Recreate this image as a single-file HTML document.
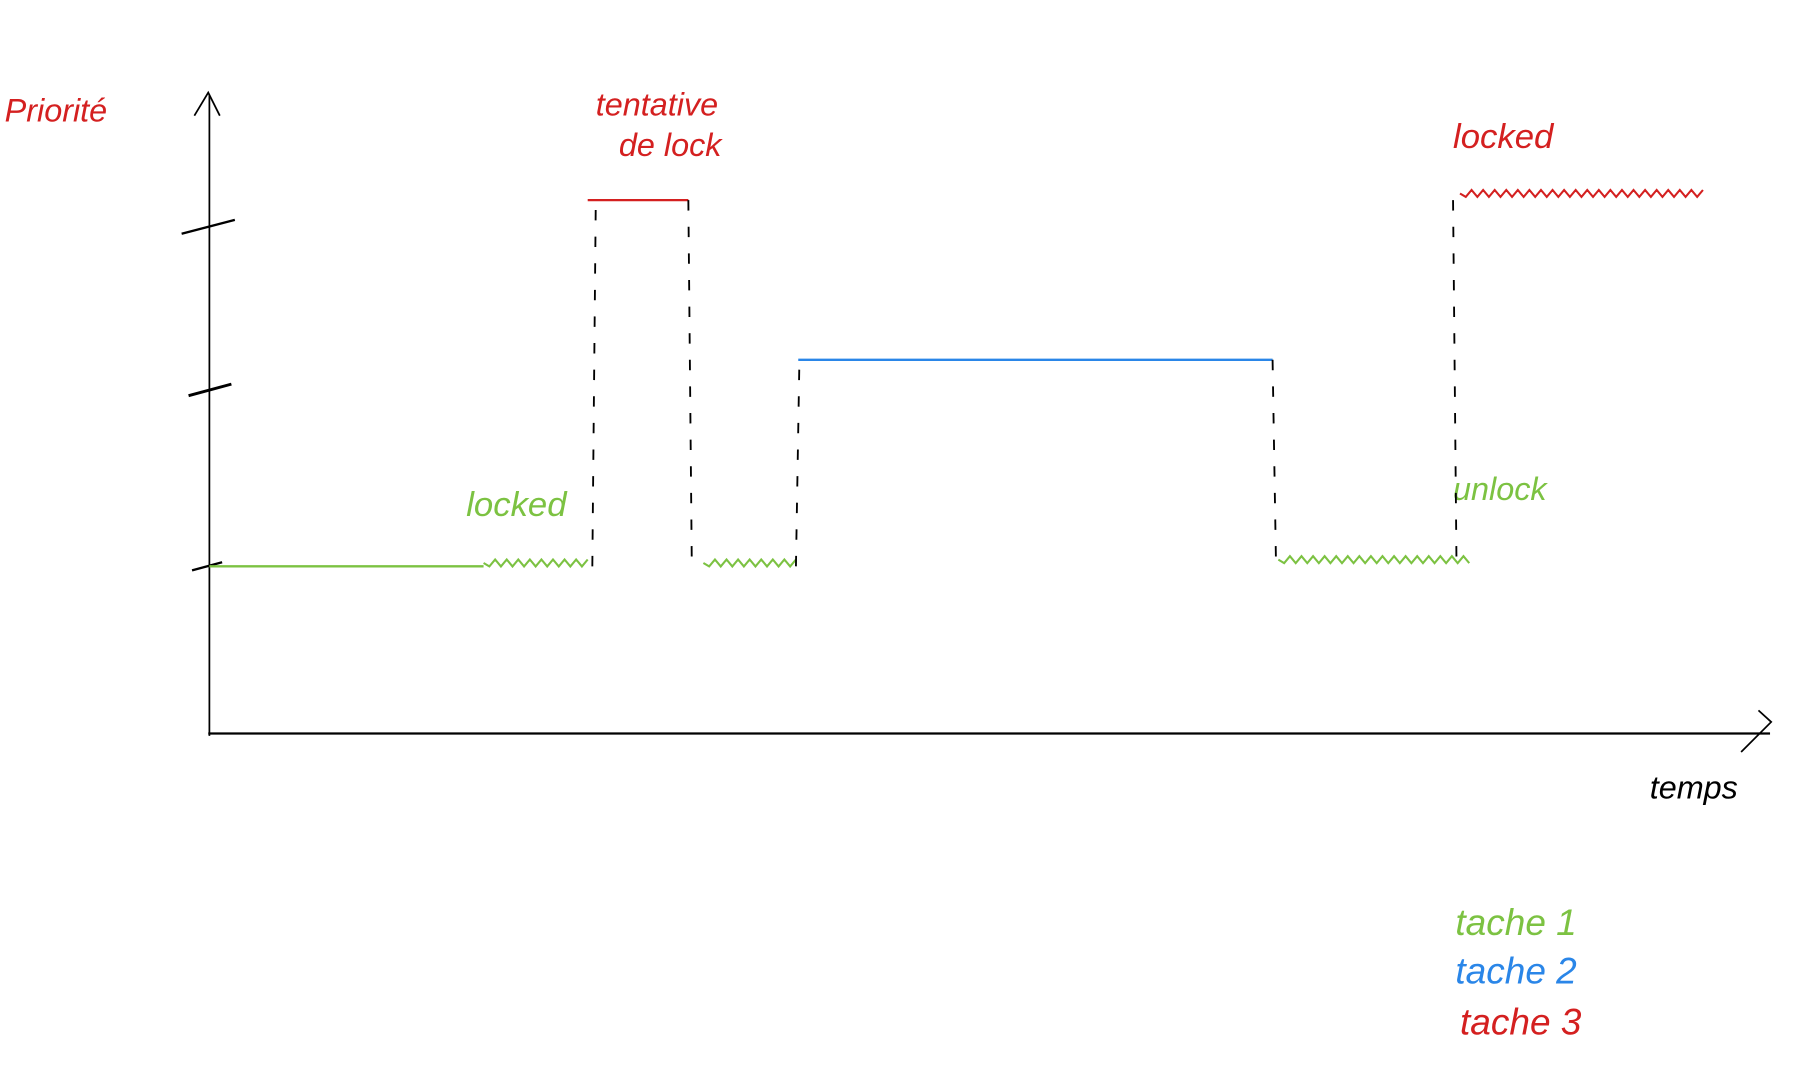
<!DOCTYPE html>
<html><head><meta charset="utf-8"><style>
html,body{margin:0;padding:0;background:#fff;}
svg{display:block;}
text{font-family:"Liberation Sans",sans-serif;font-style:italic;}
</style></head><body>
<svg id="chart" width="1814" height="1091" viewBox="0 0 1568 943" preserveAspectRatio="none" xmlns="http://www.w3.org/2000/svg">
<g>
<line x1="181" y1="636" x2="181" y2="82" stroke="#000" stroke-width="1.5"/>
<polyline points="168,100 180,80 190,100" fill="none" stroke="#000" stroke-width="1.5"/>
<line x1="157" y1="202" x2="203" y2="190" stroke="#000" stroke-width="2"/>
<line x1="163" y1="342" x2="200" y2="332" stroke="#000" stroke-width="2.5"/>
<line x1="166" y1="493" x2="192" y2="486" stroke="#000" stroke-width="2"/>
</g>
<g>
<line x1="180" y1="634" x2="1530" y2="634" stroke="#000" stroke-width="2"/>
<polyline points="1520,614 1531,624 1505,650" fill="none" stroke="#000" stroke-width="1.5"/>
</g>
<text x="4" y="105" fill="#d42020" font-size="28">Priorité</text>
<text x="1426" y="690" fill="#000" font-size="28">temps</text>
<text x="515" y="100" fill="#d42020" font-size="28">tentative</text>
<text x="535" y="135" fill="#d42020" font-size="28">de lock</text>
<text x="403" y="446" fill="#7cc242" font-size="30">locked</text>
<text x="1256" y="128" fill="#d42020" font-size="30">locked</text>
<text x="1256" y="432" fill="#7cc242" font-size="28">unlock</text>
<g>
<text x="1258" y="808" fill="#7cc242" font-size="32">tache 1</text>
<text x="1258" y="850" fill="#2a86e8" font-size="32">tache 2</text>
<text x="1262" y="894" fill="#d42020" font-size="32">tache 3</text>
</g>
<g id="marks"></g>
</svg>
<script>
// time units on x, priority level on y
const segTask = [1, 1, 3, 1, 2, 1, 3];
const segStart = [0, 23.7, 32.7, 42.7, 50.9, 92.4, 108.1];
const segEnd = [23.7, 33.0, 41.4, 50.7, 91.9, 109.0, 129.1];
const segPriority = [1, 1.02, 3, 1.02, 2, 1.04, 3.04];
const segLocked = [0, 1, 0, 1, 0, 1, 1];
const transStart = [33.1, 41.4, 50.7, 91.9, 107.5];
const transFrom = [1, 3, 1, 2, 3];
const transTo = [3, 1, 2, 1, 1];
const colors = {1:'#7cc242', 2:'#2a86e8', 3:'#d42020'};
function xs(t){ return 181 + t * 10; }
function ys(p){ return 634 - p * 144.5 + (p>=3 ? -27.5 : (p>=2 ? -34 : 0)); }
const g = document.getElementById('marks');
const NS = 'http://www.w3.org/2000/svg';
for (let i = 0; i < segTask.length; i++) {
  const x1 = xs(segStart[i]), x2 = xs(segEnd[i]), y = ys(segPriority[i]);
  const p = document.createElementNS(NS, 'path');
  let d = 'M' + x1 + ' ' + y;
  if (segLocked[i]) {
    let k = 0;
    for (let x = x1 + 5; x <= x2; x += 5) { d += ' L' + x + ' ' + (y + (k % 2 ? -3 : 3)); k++; }
  } else d += ' L' + x2 + ' ' + y;
  p.setAttribute('d', d);
  p.setAttribute('fill', 'none');
  p.setAttribute('stroke', colors[segTask[i]]);
  p.setAttribute('stroke-width', segLocked[i] ? 1.8 : 2);
  
  
  g.appendChild(p);
}
for (let i = 0; i < transStart.length; i++) {
  const x = xs(transStart[i]);
  const l = document.createElementNS(NS, 'line');
  l.setAttribute('x1', x); l.setAttribute('x2', x + 3);
  l.setAttribute('y1', ys(transFrom[i])); l.setAttribute('y2', ys(transTo[i]));
  l.setAttribute('stroke', '#000');
  l.setAttribute('stroke-width', 1.6);
  l.setAttribute('stroke-dasharray', '9 14');
  
  
  g.appendChild(l);
}
</script>
</body></html>
